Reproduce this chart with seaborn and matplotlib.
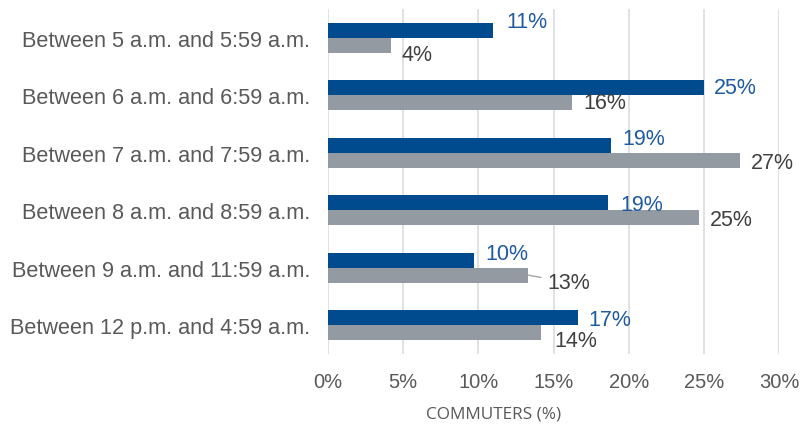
import matplotlib
matplotlib.use("Agg")
import matplotlib.pyplot as plt
import seaborn as sns
import pandas as pd
from matplotlib.ticker import FuncFormatter

categories = [
    "Between 5 a.m. and 5:59 a.m.",
    "Between 6 a.m. and 6:59 a.m.",
    "Between 7 a.m. and 7:59 a.m.",
    "Between 8 a.m. and 8:59 a.m.",
    "Between 9 a.m. and 11:59 a.m.",
    "Between 12 p.m. and 4:59 a.m.",
]
series_names = ["Series 1", "Series 2"]
series1 = [11.0, 25.0, 18.8, 18.6, 9.7, 16.6]
series2 = [4.2, 16.2, 27.4, 24.7, 13.3, 14.2]
labels1 = ["11%", "25%", "19%", "19%", "10%", "17%"]
labels2 = ["4%", "16%", "27%", "25%", "13%", "14%"]
xticks = [0, 5, 10, 15, 20, 25, 30]

# label offsets (pixels: right, down) from bar end
off1 = [(13, -9.5), (10, 0), (12, -6.5), (13, 1.5), (12, -7), (11, 1.5)]
off2 = [(10, 9), (12, 0), (11, 2), (11, 2), (19, 7.5), (13, 8)]

df = pd.DataFrame({
    "category": categories * 2,
    "value": series1 + series2,
    "series": [series_names[0]] * len(categories) + [series_names[1]] * len(categories),
})

sns.set_theme(style="white")
plt.rcParams["font.family"] = ["Liberation Sans", "DejaVu Sans"]

fig = plt.figure(figsize=(8.02, 4.31), dpi=100)
ax = fig.add_axes([328 / 802, 1 - 354.7 / 431, (779 - 328) / 802, (354.7 - 10.3) / 431])

blue = "#004B8D"
gray = "#939AA1"
sns.barplot(data=df, y="category", x="value", hue="series", order=categories,
            hue_order=series_names, palette=[blue, gray], width=0.52,
            saturation=1, orient="h", ax=ax, legend=False, linewidth=0)

ax.set_xlim(0, 30)
ax.set_ylim(len(categories) - 0.5, -0.5)
ax.set_xticks(xticks)
ax.xaxis.set_major_formatter(FuncFormatter(lambda v, p: f"{v:.0f}%"))
ax.grid(axis="x", color="#D9D9D9", linewidth=1.1)
ax.set_axisbelow(True)
for s in ax.spines.values():
    s.set_visible(False)
ax.tick_params(axis="both", length=0)
ax.tick_params(axis="y", pad=13, labelsize=15.6, labelcolor="#595959")
ax.tick_params(axis="x", pad=13, labelsize=14.5, labelcolor="#595959")
ax.set_xlabel("")
ax.set_ylabel("")

bh = 0.26
for i in range(len(categories)):
    yb = i - bh / 2
    yg = i + bh / 2
    dx, dy = off1[i]
    ax.annotate(labels1[i], xy=(series1[i], yb), xytext=(dx, -dy),
                textcoords="offset pixels", ha="left", va="center",
                fontsize=15.5, color="#1E5AA0")
    dx, dy = off2[i]
    kw = {}
    if i == 4:
        kw["arrowprops"] = dict(arrowstyle="-", color="#A6A6A6", lw=1,
                                shrinkA=2, shrinkB=0)
    ax.annotate(labels2[i], xy=(series2[i], yg), xytext=(dx, -dy),
                textcoords="offset pixels", ha="left", va="center",
                fontsize=15.5, color="#404040", **kw)

fig.text(494 / 802, 1 - 415 / 431, "COMMUTERS (%)", ha="center", va="center",
         fontsize=12.4, color="#595959", family=["Open Sans", "DejaVu Sans"])

fig.savefig("out.png", dpi=100)
